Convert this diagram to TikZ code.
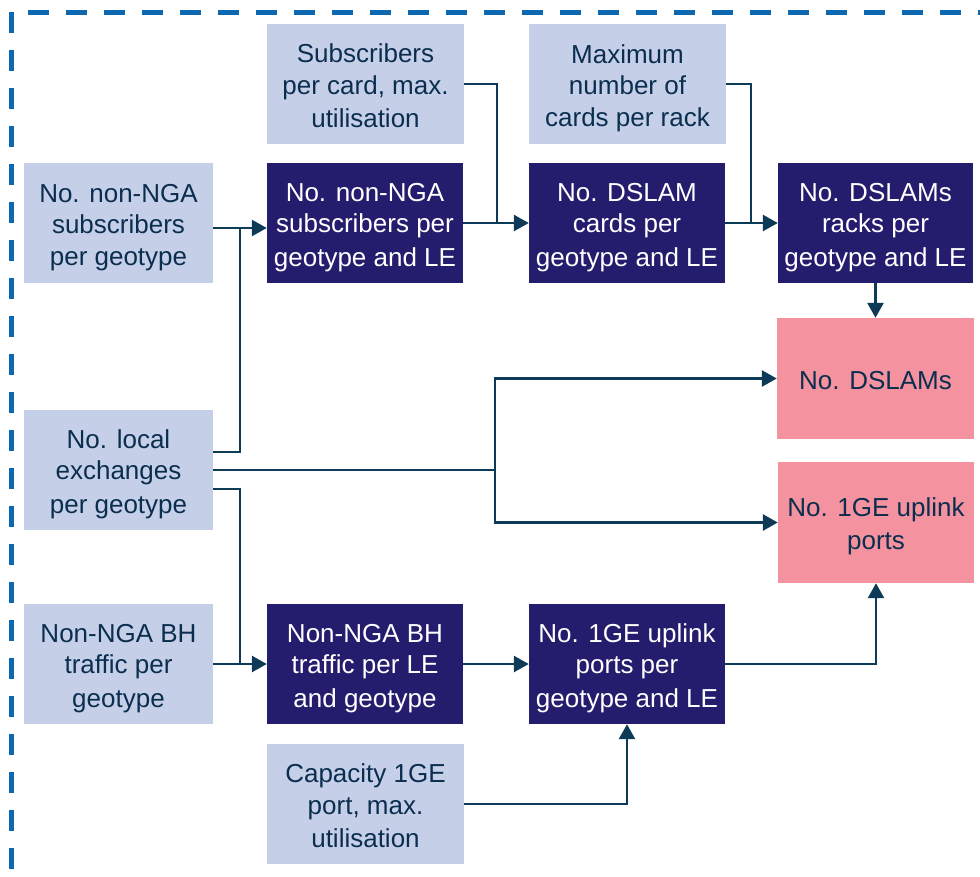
\documentclass[tikz,border=0pt]{standalone}
\usepackage{fontspec}
\setmainfont{Liberation Sans}
\usetikzlibrary{arrows.meta}
\definecolor{lightfill}{HTML}{C5D0E8}
\definecolor{darkfill}{HTML}{241D6D}
\definecolor{pinkfill}{HTML}{F4929F}
\definecolor{navytext}{HTML}{0B2E4F}
\definecolor{linecol}{HTML}{0D3A56}
\definecolor{bordercol}{HTML}{0B68B1}
\newcommand{\bs}{\rule[-4.75pt]{0pt}{31.5pt}}
\tikzset{
  box/.style={rectangle, inner sep=0pt, align=center, minimum height=120pt,
    font=\fontsize{26}{31.5}\selectfont},
  lbox/.style={box, fill=lightfill, text=navytext},
  dbox/.style={box, fill=darkfill, text=white},
  pbox/.style={box, fill=pinkfill, text=navytext},
  conn/.style={draw=linecol, line width=2.7pt},
  arr/.style={conn, -{Triangle[length=15pt,width=16pt]}},
  border/.style={draw=bordercol, line width=5pt, dash pattern=on 21pt off 17pt}
}
\begin{document}
\begin{tikzpicture}[x=1pt,y=-1pt]
\useasboundingbox (0,0) rectangle (980,876);
% dashed frame
\draw[border] (11,12) -- (11,876);
\draw[border] (28,12) -- (980,12);
% nodes
\node[lbox, minimum width=189pt] (s1) at (118.5,223) {\bs No. non-NGA\\subscribers\\per geotype\bs};
\node[lbox, minimum width=189pt] (le) at (118.5,470) {\bs No. local\\exchanges\\per geotype\bs};
\node[lbox, minimum width=189pt] (bh) at (118.5,664) {\bs Non-NGA BH\\traffic per\\geotype\bs};
\node[lbox, minimum width=197pt] (spc) at (365.5,84) {\bs Subscribers\\per card, max.\\utilisation\bs};
\node[dbox, minimum width=196pt] (nsub) at (365,223) {\bs No. non-NGA\\subscribers per\\geotype and LE\bs};
\node[dbox, minimum width=196pt] (nbh) at (365,664) {\bs Non-NGA BH\\traffic per LE\\and geotype\bs};
\node[lbox, minimum width=197pt] (cap) at (365.5,804) {\bs Capacity 1GE\\port, max.\\utilisation\bs};
\node[lbox, minimum width=197pt] (mcr) at (627.5,84) {\bs Maximum\\number of\\cards per rack\bs};
\node[dbox, minimum width=196pt] (cards) at (627,223) {\bs No. DSLAM\\cards per\\geotype and LE\bs};
\node[dbox, minimum width=196pt] (ports) at (627,664) {\bs No. 1GE uplink\\ports per\\geotype and LE\bs};
\node[dbox, minimum width=195pt] (racks) at (875.5,223) {\bs No. DSLAMs\\racks per\\geotype and LE\bs};
\node[pbox, minimum width=197pt, minimum height=121pt] (dslams) at (875.5,378.5) {\bs No. DSLAMs\bs};
\node[pbox, minimum width=196pt, minimum height=121pt] (uplink) at (876,522.5) {\bs No. 1GE uplink\\ports\bs};
% junction coordinates
\coordinate (j1) at (240,228);
\coordinate (j2) at (495,470);
\coordinate (j3) at (240,664);
\coordinate (j4) at (497,223);
\coordinate (j5) at (751,223);
% connectors
\draw[arr] ([yshift=-5pt]s1.east) -- ([yshift=-5pt]nsub.west);
\draw[conn] ([yshift=18pt]le.east) -| (j1);
\draw[arr] (nsub.east) -- (cards.west);
\draw[conn] (spc.east) -| (j4);
\draw[arr] (cards.east) -- (racks.west);
\draw[conn] (mcr.east) -| (j5);
\draw[arr] (racks.south) -- (dslams.north);
\draw[conn] (le.east) -- (j2);
\draw[arr] (j2) |- (dslams.west);
\draw[arr] (j2) |- (uplink.west);
\draw[conn] ([yshift=-19pt]le.east) -| (j3);
\draw[arr] (bh.east) -- (nbh.west);
\draw[arr] (nbh.east) -- (ports.west);
\draw[arr] (cap.east) -| (ports.south);
\draw[arr] (ports.east) -| (uplink.south);
\end{tikzpicture}
\end{document}
